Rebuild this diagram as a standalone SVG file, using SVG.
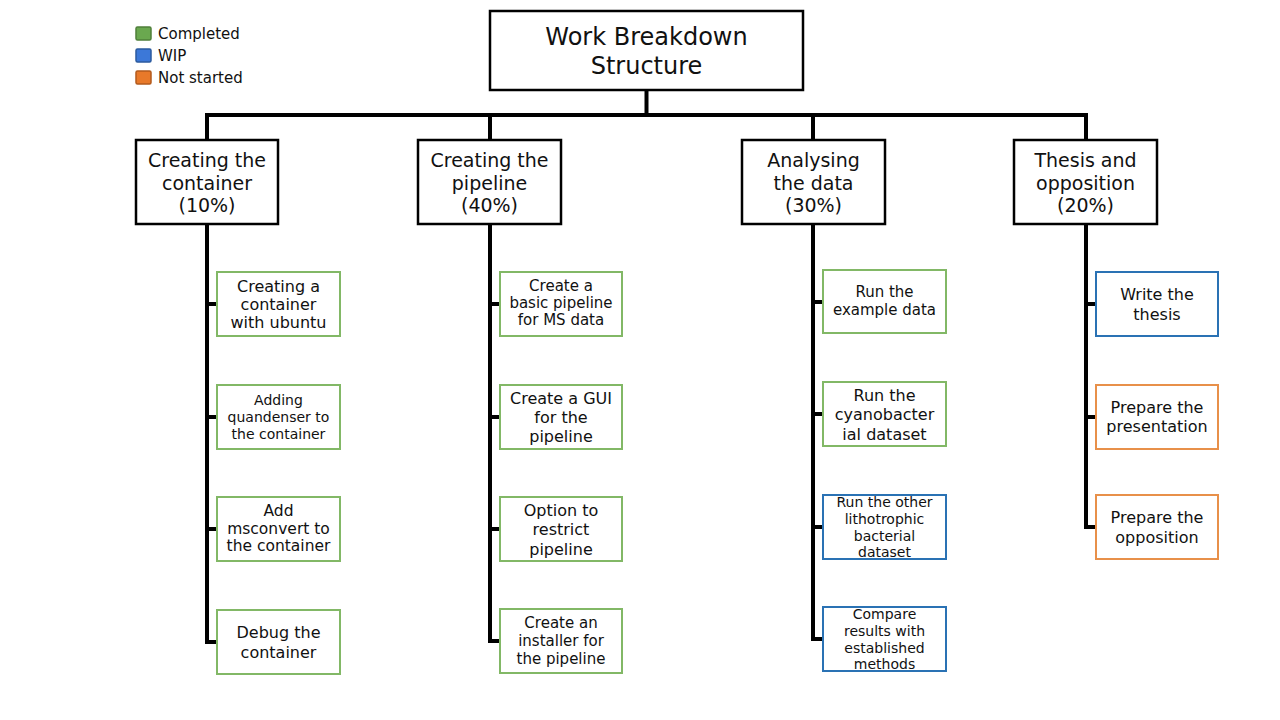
<svg xmlns="http://www.w3.org/2000/svg" width="1280" height="720" viewBox="0 0 1280 720">
<style>
text{font-family:"DejaVu Sans","Liberation Sans",sans-serif;fill:#111;text-anchor:middle;dominant-baseline:central}
.root{fill:#fff;stroke:#000;stroke-width:2.5}
.l2{fill:#fff;stroke:#000;stroke-width:2.5}
.g{fill:#fff;stroke:#82b866;stroke-width:2}
.b{fill:#fff;stroke:#2a72b4;stroke-width:2}
.o{fill:#fff;stroke:#e8904a;stroke-width:2}
.c{fill:none;stroke:#000;stroke-width:4}
.lg{text-anchor:start;font-size:15px}
</style>
<g id="legend">
<rect x="136" y="27" width="15" height="13" rx="1.5" fill="#6aa84f" stroke="#4f7f3a" stroke-width="1.5"/>
<rect x="136" y="49" width="15" height="13" rx="1.5" fill="#3c78d8" stroke="#2b5a9e" stroke-width="1.5"/>
<rect x="136" y="71" width="15" height="13" rx="1.5" fill="#e8792a" stroke="#b25a1c" stroke-width="1.5"/>
<text class="lg" x="158" y="33.5">Completed</text>
<text class="lg" x="158" y="55.5">WIP</text>
<text class="lg" x="158" y="77.5">Not started</text>
</g>
<g id="connectors">
<path class="c" d="M646.5 90V115M207 140V115H1086V140M490 115V140M813 115V140"/>
<path class="c" d="M207 224V642H217M207 304H217M207 417H217M207 529H217"/>
<path class="c" d="M490 224V641H500M490 304H500M490 417H500M490 529H500"/>
<path class="c" d="M813 224V639H823M813 302H823M813 414H823M813 527H823"/>
<path class="c" d="M1086 224V527H1096M1086 304H1096M1086 417H1096"/>
</g>
<g id="root">
<rect class="root" x="490" y="11" width="313" height="79"/>
<text x="646.5" y="37" font-size="24">Work Breakdown</text>
<text x="646.5" y="66" font-size="24">Structure</text>
</g>
<g id="n1">
<rect class="l2" x="136" y="140" width="142" height="84"/>
<text x="207" y="160" font-size="19">Creating the</text>
<text x="207" y="183" font-size="19">container</text>
<text x="207" y="205" font-size="19">(10%)</text>
</g>
<g id="n2">
<rect class="l2" x="418" y="140" width="143" height="84"/>
<text x="489.5" y="160" font-size="19">Creating the</text>
<text x="489.5" y="183" font-size="19">pipeline</text>
<text x="489.5" y="205" font-size="19">(40%)</text>
</g>
<g id="n3">
<rect class="l2" x="742" y="140" width="143" height="84"/>
<text x="813.5" y="160" font-size="19">Analysing</text>
<text x="813.5" y="183" font-size="19">the data</text>
<text x="813.5" y="205" font-size="19">(30%)</text>
</g>
<g id="n4">
<rect class="l2" x="1014" y="140" width="143" height="84"/>
<text x="1085.5" y="160" font-size="19">Thesis and</text>
<text x="1085.5" y="183" font-size="19">opposition</text>
<text x="1085.5" y="205" font-size="19">(20%)</text>
</g>
<g id="n1a">
<rect class="g" x="217" y="272" width="123" height="64"/>
<text x="278.5" y="286" font-size="16">Creating a</text>
<text x="278.5" y="304" font-size="16">container</text>
<text x="278.5" y="322" font-size="16">with ubuntu</text>
</g>
<g id="n1b">
<rect class="g" x="217" y="385" width="123" height="64"/>
<text x="278.5" y="400" font-size="14">Adding</text>
<text x="278.5" y="417" font-size="14">quandenser to</text>
<text x="278.5" y="434" font-size="14">the container</text>
</g>
<g id="n1c">
<rect class="g" x="217" y="497" width="123" height="64"/>
<text x="278.5" y="511" font-size="15.5">Add</text>
<text x="278.5" y="529" font-size="15.5">msconvert to</text>
<text x="278.5" y="546" font-size="15.5">the container</text>
</g>
<g id="n1d">
<rect class="g" x="217" y="610" width="123" height="64"/>
<text x="278.5" y="632" font-size="16">Debug the</text>
<text x="278.5" y="652" font-size="16">container</text>
</g>
<g id="n2a">
<rect class="g" x="500" y="272" width="122" height="64"/>
<text x="561" y="286" font-size="15">Create a</text>
<text x="561" y="303" font-size="15">basic pipeline</text>
<text x="561" y="320" font-size="15">for MS data</text>
</g>
<g id="n2b">
<rect class="g" x="500" y="385" width="122" height="64"/>
<text x="561" y="398" font-size="16">Create a GUI</text>
<text x="561" y="417" font-size="16">for the</text>
<text x="561" y="436" font-size="16">pipeline</text>
</g>
<g id="n2c">
<rect class="g" x="500" y="497" width="122" height="64"/>
<text x="561" y="510" font-size="16">Option to</text>
<text x="561" y="529" font-size="16">restrict</text>
<text x="561" y="549" font-size="16">pipeline</text>
</g>
<g id="n2d">
<rect class="g" x="500" y="609" width="122" height="64"/>
<text x="561" y="623" font-size="15">Create an</text>
<text x="561" y="641" font-size="15">installer for</text>
<text x="561" y="659" font-size="15">the pipeline</text>
</g>
<g id="n3a">
<rect class="g" x="823" y="270" width="123" height="63"/>
<text x="884.5" y="292" font-size="15">Run the</text>
<text x="884.5" y="310" font-size="15">example data</text>
</g>
<g id="n3b">
<rect class="g" x="823" y="382" width="123" height="64"/>
<text x="884.5" y="395" font-size="16">Run the</text>
<text x="884.5" y="414" font-size="16">cyanobacter</text>
<text x="884.5" y="434" font-size="16">ial dataset</text>
</g>
<g id="n3c">
<rect class="b" x="823" y="495" width="123" height="64"/>
<text x="884.5" y="502" font-size="14">Run the other</text>
<text x="884.5" y="519" font-size="14">lithotrophic</text>
<text x="884.5" y="536" font-size="14">bacterial</text>
<text x="884.5" y="552" font-size="14">dataset</text>
</g>
<g id="n3d">
<rect class="b" x="823" y="607" width="123" height="64"/>
<text x="884.5" y="614" font-size="14">Compare</text>
<text x="884.5" y="631" font-size="14">results with</text>
<text x="884.5" y="648" font-size="14">established</text>
<text x="884.5" y="664" font-size="14">methods</text>
</g>
<g id="n4a">
<rect class="b" x="1096" y="272" width="122" height="64"/>
<text x="1157" y="294" font-size="16">Write the</text>
<text x="1157" y="314" font-size="16">thesis</text>
</g>
<g id="n4b">
<rect class="o" x="1096" y="385" width="122" height="64"/>
<text x="1157" y="407" font-size="16">Prepare the</text>
<text x="1157" y="426" font-size="16">presentation</text>
</g>
<g id="n4c">
<rect class="o" x="1096" y="495" width="122" height="64"/>
<text x="1157" y="517" font-size="16">Prepare the</text>
<text x="1157" y="537" font-size="16">opposition</text>
</g>
</svg>
